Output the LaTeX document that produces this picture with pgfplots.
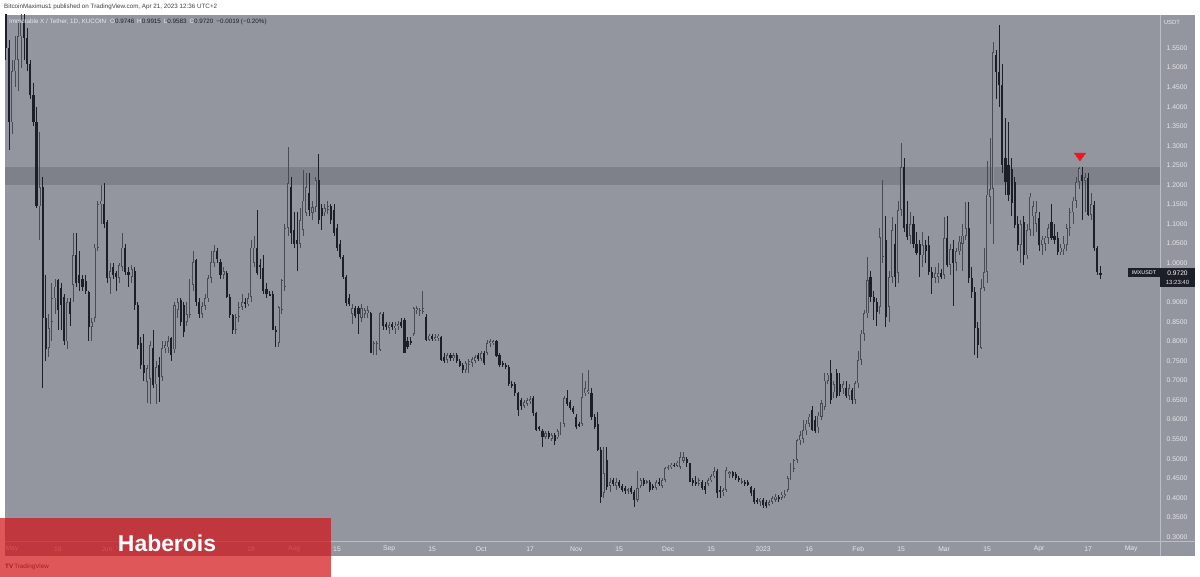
\documentclass[border=0pt]{standalone}
\usepackage{pgfplots}
\pgfplotsset{compat=1.18}
\usepackage{pgfplotstable}
\usepackage{fontspec}
\setmainfont{Liberation Sans}
\definecolor{panel}{RGB}{147,150,159}
\definecolor{band}{RGB}{126,129,138}
\definecolor{dncol}{RGB}{28,31,40}
\definecolor{upcol}{RGB}{72,75,85}
\definecolor{sepline}{RGB}{188,190,197}
\definecolor{lbl}{RGB}{230,231,235}
\definecolor{tvred}{RGB}{212,16,20}
\definecolor{marker}{RGB}{240,22,30}
\definecolor{pubtxt}{RGB}{60,63,70}

\pgfplotstableread{
d o h l c
-2 1.64 1.68 1.52 1.55
-1 1.55 1.57 1.29 1.36
0 1.36 1.52 1.33 1.49
1 1.49 1.58 1.45 1.52
2 1.52 1.62 1.44 1.58
3 1.58 1.66 1.50 1.62
4 1.62 1.66 1.52 1.575
5 1.575 1.60 1.49 1.51
6 1.51 1.52 1.42 1.43
7 1.43 1.46 1.35 1.36
8 1.36 1.40 1.14 1.145
9 1.145 1.335 1.06 1.195
10 1.195 1.22 0.68 0.86
11 0.86 0.97 0.75 0.78
12 0.783 0.87 0.76 0.834
13 0.85 0.95 0.80 0.91
14 0.91 0.96 0.87 0.94
15 0.957 0.96 0.83 0.88
16 0.936 0.95 0.83 0.893
17 0.913 0.92 0.79 0.80
18 0.80 0.91 0.78 0.90
19 0.90 0.91 0.84 0.87
20 0.944 1.077 0.90 1.02
21 1.02 1.077 0.94 0.95
22 0.97 1.03 0.93 0.95
23 0.96 0.97 0.93 0.94
24 0.955 0.97 0.92 0.93
25 0.926 0.93 0.80 0.837
26 0.837 0.86 0.80 0.85
27 0.86 1.05 0.85 1.04
28 1.04 1.16 1.03 1.15
29 1.15 1.20 1.10 1.16
30 1.15 1.205 1.09 1.10
31 1.105 1.11 0.95 0.962
32 0.962 1.00 0.92 0.98
33 0.99 1.00 0.96 0.97
34 0.975 0.98 0.93 0.965
35 0.962 1.00 0.95 0.995
36 0.99 1.077 0.98 1.04
37 1.04 1.05 0.97 0.977
38 0.977 0.99 0.94 0.97
39 0.965 0.995 0.95 0.985
40 0.98 0.99 0.88 0.893
41 0.893 0.90 0.78 0.79
42 0.796 0.81 0.73 0.74
43 0.74 0.82 0.70 0.72
44 0.696 0.74 0.642 0.732
45 0.705 0.80 0.64 0.79
46 0.783 0.83 0.68 0.689
47 0.69 0.75 0.64 0.735
48 0.74 0.76 0.645 0.71
49 0.71 0.80 0.70 0.783
50 0.783 0.80 0.77 0.79
51 0.785 0.815 0.77 0.80
52 0.808 0.81 0.75 0.765
53 0.78 0.90 0.77 0.893
54 0.88 0.91 0.86 0.90
55 0.906 0.91 0.84 0.85
56 0.893 0.90 0.81 0.824
57 0.85 0.90 0.84 0.87
58 0.867 0.96 0.86 0.95
59 0.944 1.03 0.93 1.003
60 1.008 1.01 0.89 0.90
61 0.90 0.91 0.86 0.87
62 0.87 0.90 0.86 0.89
63 0.89 0.92 0.88 0.91
64 0.91 0.97 0.90 0.962
65 0.962 1.03 0.95 1.003
66 1.00 1.046 0.99 1.03
67 1.03 1.04 1.00 1.01
68 1.003 1.01 0.96 0.97
69 0.97 0.99 0.96 0.98
70 0.975 0.98 0.91 0.913
71 0.913 0.92 0.86 0.867
72 0.867 0.87 0.82 0.83
73 0.83 0.87 0.82 0.862
74 0.862 0.90 0.85 0.888
75 0.888 0.92 0.88 0.90
76 0.90 0.91 0.885 0.895
77 0.895 0.925 0.89 0.91
78 0.913 1.06 0.90 1.04
79 1.00 1.07 0.99 1.04
80 1.04 1.136 0.97 0.975
81 0.995 1.01 0.96 0.99
82 0.988 1.02 0.92 0.93
83 0.935 0.95 0.91 0.92
84 0.92 0.93 0.915 0.918
85 0.92 0.93 0.83 0.83
86 0.83 0.84 0.786 0.825
87 0.796 0.89 0.786 0.888
88 0.88 0.96 0.87 0.957
89 0.94 1.10 0.93 1.09
90 1.09 1.297 1.07 1.205
91 1.195 1.22 1.05 1.077
92 1.085 1.13 1.04 1.05
93 1.06 1.13 0.98 1.05
94 1.05 1.14 1.04 1.11
95 1.085 1.238 1.07 1.16
96 1.128 1.23 1.12 1.195
97 1.18 1.23 1.12 1.136
98 1.128 1.16 1.11 1.144
99 1.144 1.22 1.13 1.212
100 1.212 1.28 1.10 1.11
101 1.14 1.15 1.085 1.12
102 1.13 1.15 1.12 1.14
103 1.136 1.16 1.125 1.145
104 1.145 1.15 1.10 1.11
105 1.136 1.15 1.07 1.077
106 1.09 1.10 1.03 1.04
107 1.05 1.06 1.01 1.016
108 1.016 1.02 0.96 0.965
109 0.965 0.97 0.89 0.898
110 0.91 0.92 0.89 0.895
111 0.87 0.895 0.845 0.885
112 0.885 0.89 0.86 0.865
113 0.885 0.89 0.82 0.87
114 0.86 0.895 0.85 0.885
115 0.87 0.885 0.86 0.88
116 0.872 0.89 0.86 0.88
117 0.872 0.875 0.77 0.77
118 0.78 0.80 0.765 0.795
119 0.78 0.80 0.765 0.795
120 0.778 0.875 0.775 0.872
121 0.87 0.875 0.83 0.84
122 0.845 0.85 0.83 0.838
123 0.835 0.85 0.82 0.842
124 0.845 0.85 0.83 0.838
125 0.835 0.85 0.82 0.84
126 0.84 0.852 0.83 0.845
127 0.85 0.86 0.835 0.84
128 0.855 0.86 0.77 0.77
129 0.80 0.81 0.78 0.785
130 0.80 0.81 0.79 0.795
131 0.82 0.888 0.815 0.885
132 0.88 0.89 0.87 0.885
133 0.875 0.885 0.865 0.88
134 0.875 0.93 0.87 0.885
135 0.862 0.87 0.80 0.804
136 0.804 0.82 0.80 0.815
137 0.815 0.82 0.80 0.805
138 0.805 0.82 0.80 0.81
139 0.81 0.82 0.80 0.815
140 0.81 0.815 0.75 0.752
141 0.76 0.77 0.745 0.75
142 0.752 0.77 0.745 0.765
143 0.765 0.77 0.75 0.757
144 0.757 0.77 0.75 0.765
145 0.765 0.77 0.745 0.75
146 0.75 0.755 0.735 0.738
147 0.74 0.745 0.72 0.727
148 0.727 0.75 0.72 0.745
149 0.74 0.755 0.72 0.75
150 0.745 0.76 0.735 0.755
151 0.75 0.765 0.745 0.76
152 0.765 0.77 0.75 0.755
153 0.755 0.775 0.75 0.77
154 0.77 0.775 0.74 0.745
155 0.77 0.803 0.765 0.795
156 0.795 0.805 0.785 0.80
157 0.795 0.803 0.79 0.80
158 0.80 0.803 0.76 0.762
159 0.765 0.77 0.735 0.74
160 0.745 0.75 0.735 0.74
161 0.74 0.745 0.73 0.735
162 0.735 0.74 0.685 0.69
163 0.69 0.70 0.68 0.685
164 0.69 0.695 0.66 0.667
165 0.667 0.67 0.61 0.625
166 0.65 0.655 0.625 0.635
167 0.635 0.65 0.63 0.645
168 0.64 0.655 0.635 0.65
169 0.647 0.66 0.64 0.652
170 0.656 0.66 0.61 0.617
171 0.617 0.62 0.57 0.574
172 0.58 0.585 0.57 0.575
173 0.57 0.575 0.53 0.556
174 0.556 0.57 0.55 0.565
175 0.565 0.57 0.55 0.555
176 0.55 0.565 0.545 0.56
177 0.56 0.565 0.535 0.545
178 0.555 0.575 0.55 0.57
179 0.565 0.595 0.56 0.59
180 0.59 0.66 0.58 0.655
181 0.655 0.675 0.635 0.64
182 0.645 0.65 0.625 0.63
183 0.63 0.635 0.615 0.62
184 0.607 0.615 0.575 0.58
185 0.59 0.595 0.58 0.585
186 0.59 0.72 0.585 0.658
187 0.667 0.70 0.66 0.68
188 0.67 0.727 0.665 0.675
189 0.667 0.68 0.60 0.607
190 0.607 0.615 0.575 0.58
191 0.59 0.62 0.52 0.522
192 0.522 0.53 0.387 0.402
193 0.412 0.53 0.40 0.464
194 0.497 0.53 0.42 0.428
195 0.43 0.45 0.415 0.44
196 0.445 0.45 0.43 0.435
197 0.43 0.45 0.42 0.44
198 0.44 0.445 0.425 0.43
199 0.43 0.435 0.415 0.42
200 0.425 0.43 0.41 0.418
201 0.418 0.425 0.41 0.422
202 0.425 0.43 0.41 0.415
203 0.415 0.42 0.377 0.395
204 0.395 0.47 0.39 0.425
205 0.43 0.45 0.425 0.445
206 0.445 0.45 0.43 0.435
207 0.44 0.445 0.435 0.442
208 0.44 0.445 0.415 0.42
209 0.43 0.435 0.42 0.425
210 0.425 0.445 0.42 0.44
211 0.44 0.45 0.43 0.435
212 0.43 0.45 0.425 0.445
213 0.446 0.48 0.44 0.476
214 0.476 0.485 0.47 0.48
215 0.48 0.49 0.475 0.485
216 0.485 0.49 0.48 0.482
217 0.482 0.495 0.48 0.49
218 0.48 0.517 0.475 0.505
219 0.495 0.517 0.49 0.505
220 0.50 0.505 0.48 0.49
221 0.489 0.49 0.44 0.44
222 0.445 0.45 0.43 0.438
223 0.44 0.455 0.43 0.436
224 0.436 0.45 0.43 0.445
225 0.44 0.445 0.42 0.425
226 0.43 0.44 0.41 0.42
227 0.436 0.45 0.43 0.445
228 0.445 0.46 0.44 0.455
229 0.455 0.48 0.45 0.468
230 0.47 0.475 0.40 0.412
231 0.42 0.43 0.40 0.415
232 0.415 0.425 0.405 0.42
233 0.42 0.48 0.415 0.47
234 0.46 0.47 0.45 0.465
235 0.465 0.47 0.45 0.455
236 0.46 0.465 0.445 0.45
237 0.45 0.455 0.44 0.445
238 0.44 0.45 0.435 0.443
239 0.44 0.445 0.43 0.436
240 0.44 0.445 0.43 0.433
241 0.428 0.43 0.405 0.412
242 0.42 0.425 0.385 0.39
243 0.395 0.40 0.385 0.39
244 0.39 0.40 0.38 0.398
245 0.395 0.40 0.375 0.382
246 0.39 0.395 0.375 0.38
247 0.383 0.395 0.378 0.39
248 0.39 0.405 0.385 0.40
249 0.395 0.41 0.39 0.403
250 0.403 0.408 0.39 0.398
251 0.40 0.415 0.395 0.408
252 0.405 0.42 0.40 0.41
253 0.42 0.455 0.415 0.45
254 0.45 0.49 0.445 0.48
255 0.475 0.50 0.465 0.497
256 0.497 0.55 0.49 0.547
257 0.547 0.57 0.535 0.56
258 0.55 0.60 0.54 0.573
259 0.573 0.60 0.56 0.59
260 0.59 0.615 0.58 0.608
261 0.625 0.635 0.57 0.573
262 0.60 0.61 0.565 0.57
263 0.58 0.62 0.565 0.61
264 0.607 0.65 0.60 0.642
265 0.632 0.72 0.625 0.70
266 0.70 0.72 0.69 0.715
267 0.72 0.752 0.64 0.65
268 0.67 0.70 0.655 0.69
269 0.72 0.73 0.655 0.66
270 0.69 0.72 0.66 0.67
271 0.68 0.70 0.665 0.69
272 0.68 0.70 0.655 0.66
273 0.66 0.69 0.65 0.68
274 0.676 0.68 0.64 0.65
275 0.65 0.70 0.64 0.693
276 0.693 0.775 0.68 0.752
277 0.752 0.83 0.74 0.82
278 0.82 0.88 0.80 0.872
279 0.872 1.016 0.86 0.957
280 0.965 0.98 0.90 0.913
281 0.913 0.93 0.855 0.90
282 0.90 0.91 0.84 0.875
283 0.888 1.09 0.87 1.067
284 1.016 1.213 1.00 1.06
285 1.06 1.12 0.837 0.862
286 0.888 0.98 0.85 0.965
287 0.965 1.118 0.95 1.085
288 1.05 1.10 0.94 0.965
289 0.975 1.16 0.95 1.136
290 1.136 1.307 1.12 1.245
291 1.245 1.27 1.08 1.09
292 1.10 1.16 1.06 1.067
293 1.07 1.13 1.05 1.10
294 1.10 1.12 1.04 1.05
295 1.05 1.08 1.02 1.025
296 1.05 1.06 0.965 1.02
297 1.02 1.08 0.99 1.046
298 1.046 1.06 1.00 1.03
299 1.046 1.07 0.97 0.977
300 0.977 0.99 0.92 0.962
301 0.962 0.99 0.95 0.975
302 0.965 1.00 0.95 0.975
303 0.975 0.985 0.96 0.965
304 0.97 1.118 0.96 1.064
305 1.064 1.12 0.99 0.995
306 0.995 1.05 0.97 1.035
307 1.035 1.06 0.89 1.00
308 1.00 1.04 0.98 1.03
309 1.03 1.07 1.02 1.055
310 1.05 1.10 0.98 1.07
311 1.07 1.157 1.06 1.09
312 1.09 1.157 0.95 0.962
313 0.962 0.99 0.91 0.926
314 0.926 0.94 0.765 0.834
315 0.834 0.85 0.757 0.79
316 0.783 0.96 0.78 0.937
317 0.937 1.04 0.93 0.977
318 0.977 1.26 0.95 1.175
319 1.17 1.32 1.10 1.19
320 1.19 1.565 1.05 1.54
321 1.532 1.545 1.42 1.489
322 1.489 1.608 1.40 1.455
323 1.455 1.51 1.23 1.25
324 1.268 1.37 1.175 1.207
325 1.25 1.36 1.16 1.175
326 1.24 1.27 1.12 1.155
327 1.207 1.22 1.09 1.098
328 1.10 1.12 1.03 1.046
329 1.046 1.11 1.00 1.10
330 1.105 1.12 0.995 1.02
331 1.02 1.10 1.01 1.085
332 1.085 1.18 1.07 1.17
333 1.12 1.16 1.07 1.145
334 1.10 1.16 1.08 1.13
335 1.115 1.13 1.03 1.046
336 1.046 1.07 1.02 1.06
337 1.05 1.07 1.03 1.065
338 1.065 1.10 1.05 1.09
339 1.105 1.15 1.06 1.064
340 1.07 1.10 1.05 1.06
341 1.064 1.08 1.02 1.028
342 1.028 1.05 1.02 1.04
343 1.035 1.07 1.02 1.05
344 1.046 1.10 1.03 1.09
345 1.09 1.14 1.07 1.13
346 1.13 1.17 1.10 1.16
347 1.16 1.22 1.14 1.207
348 1.207 1.246 1.19 1.243
349 1.225 1.245 1.11 1.21
350 1.21 1.23 1.13 1.22
351 1.218 1.23 1.12 1.123
352 1.123 1.18 1.11 1.15
353 1.149 1.16 1.03 1.04
354 1.04 1.045 0.97 0.977
355 0.9746 0.9915 0.9583 0.972
}\candles

\pgfplotsset{
  candle/.style n args={2}{draw=none, no markers, forget plot,
    error bars/.cd, y dir=both, y explicit, error mark=none,
    error bar style={draw=#1, line width=#2}},
}

\begin{document}
\begin{tikzpicture}[x=1bp,y=1bp]
\path[use as bounding box] (0,0) rectangle (1200,577);
\fill[white] (0,0) rectangle (1200,577);
\fill[panel] (5,21) rectangle (1195,562);
\begin{axis}[
  at={(5bp,36bp)}, anchor=south west, scale only axis,
  width=1155bp, height=526bp,
  xmin=-2.28, xmax=374.4, ymin=0.2898, ymax=1.6344,
  axis line style={draw=none}, tick style={draw=none}, major tick length=0pt,
  xtick={0,15,31,78,92,106,123,137,153,169,184,198,214,228,245,260,276,290,304,318,335,351,365},
  xticklabels={May,16,Jun,18,Aug,15,Sep,15,Oct,17,Nov,15,Dec,15,2023,16,Feb,15,Mar,15,Apr,17,May},
  ytick={0.3,0.35,0.4,0.45,0.5,0.55,0.6,0.65,0.7,0.75,0.8,0.85,0.9,0.95,1.0,1.05,1.1,1.15,1.2,1.25,1.3,1.35,1.4,1.45,1.5,1.55},
  yticklabel pos=right,
  ticklabel style={font=\fontsize{6.8}{8}\selectfont, text=lbl},
  xticklabel style={anchor=center, yshift=-8bp},
  yticklabel style={anchor=center, xshift=17bp, /pgf/number format/.cd, fixed, fixed zerofill, precision=4, assume math mode=true},
  clip=true,
]
\fill[band] (axis cs:-2.28,1.2) rectangle (axis cs:374.4,1.245);
% wicks
\addplot[restrict expr to domain={\thisrow{c}-\thisrow{o}}{0:10}, candle={upcol}{0.8bp}]
  table[x=d, y expr={(\thisrow{h}+\thisrow{l})/2}, y error expr={(\thisrow{h}-\thisrow{l})/2}] {\candles};
\addplot[restrict expr to domain={\thisrow{c}-\thisrow{o}}{-10:-0.00001}, candle={dncol}{0.8bp}]
  table[x=d, y expr={(\thisrow{h}+\thisrow{l})/2}, y error expr={(\thisrow{h}-\thisrow{l})/2}] {\candles};
% up bodies (outline + hollow)
\addplot[restrict expr to domain={\thisrow{c}-\thisrow{o}}{0:10}, candle={upcol}{2.1bp}]
  table[x=d, y expr={(\thisrow{o}+\thisrow{c})/2}, y error expr={max(abs(\thisrow{c}-\thisrow{o})/2,0.0013)}] {\candles};
\addplot[restrict expr to domain={\thisrow{c}-\thisrow{o}}{0.005:10}, candle={panel}{0.6bp}]
  table[x=d, y expr={(\thisrow{o}+\thisrow{c})/2}, y error expr={abs(\thisrow{c}-\thisrow{o})/2-0.0018}] {\candles};
% down bodies
\addplot[restrict expr to domain={\thisrow{c}-\thisrow{o}}{-10:-0.00001}, candle={dncol}{2.1bp}]
  table[x=d, y expr={(\thisrow{o}+\thisrow{c})/2}, y error expr={max(abs(\thisrow{c}-\thisrow{o})/2,0.0013)}] {\candles};
% red marker
\addplot[only marks, mark=triangle*, mark size=6.5bp, mark options={yscale=-0.8, fill=marker, draw=marker}]
  coordinates {(348.3,1.2745)};
\end{axis}
% separators
\draw[sepline, line width=0.8bp] (1160,21) -- (1160,562);
\draw[sepline, line width=0.8bp] (5,36) -- (1195,36);
% header texts
\node[anchor=west, text=pubtxt, font=\fontsize{6.3}{7}\selectfont, inner sep=0] at (4,570) {BitcoinMaximus1 published on TradingView.com, Apr 21, 2023 12:36 UTC+2};
\node[anchor=west, font=\fontsize{6.3}{7}\selectfont, inner sep=0] at (9,555) {\textcolor{lbl}{Immutable X / Tether, 1D, KUCOIN}\hspace{4bp}\textcolor{lbl}{O}\textcolor{dncol}{0.9746}\hspace{3bp}\textcolor{lbl}{H}\textcolor{dncol}{0.9915}\hspace{3bp}\textcolor{lbl}{L}\textcolor{dncol}{0.9583}\hspace{3bp}\textcolor{lbl}{C}\textcolor{dncol}{0.9720}\hspace{3bp}\textcolor{dncol}{−0.0019 (−0.20\%)}};
\node[text=lbl, font=\fontsize{6}{7}\selectfont, inner sep=0] at (1172,555) {USDT};
% last price boxes
\fill[dncol] (1128,300) rectangle (1160,309);
\node[text=white, font=\fontsize{5.4}{6}\selectfont, inner sep=0] at (1144,304.5) {IMXUSDT};
\fill[dncol] (1160,290) rectangle (1195,309);
\node[text=white, font=\fontsize{6.6}{7}\selectfont, inner sep=0] at (1177.5,304) {0.9720};
\node[text=lbl, font=\fontsize{6}{7}\selectfont, inner sep=0] at (1177.5,295) {13:23:40};
% TradingView logo
\node[anchor=west, text=pubtxt, font=\fontsize{6.3}{7}\selectfont, inner sep=0] at (5,10) {\textbf{TV}\,TradingView};
% red overlay
\fill[tvred, opacity=0.7] (0,0) rectangle (331,59);
\node[text=white, font=\fontsize{23}{26}\selectfont\bfseries, inner sep=0] at (167,34) {Haberois};
\end{tikzpicture}
\end{document}
